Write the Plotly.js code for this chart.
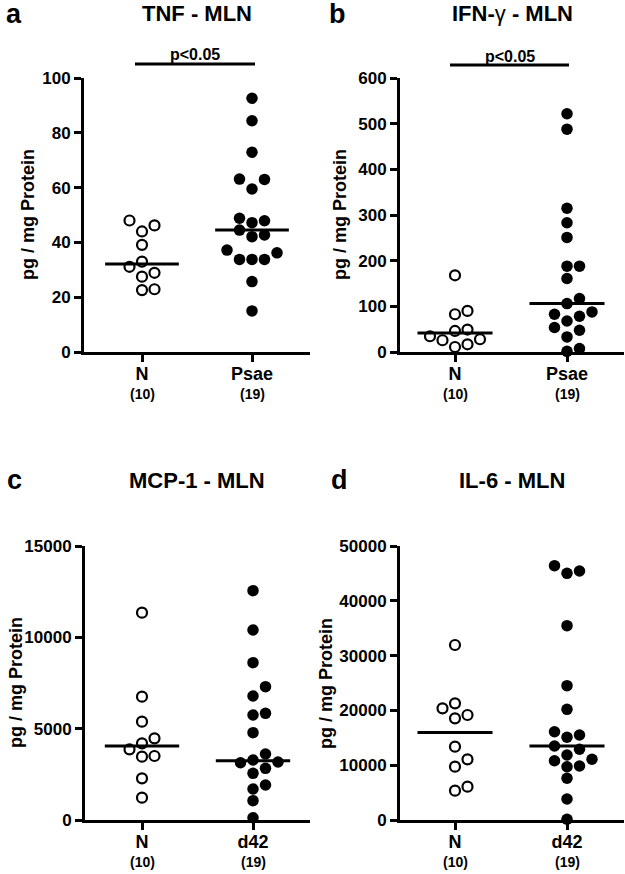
<!DOCTYPE html>
<html>
<head>
<meta charset="utf-8">
<script src="https://cdn.plot.ly/plotly-3.0.1.min.js"></script>
<style>html,body{margin:0;padding:0;background:#fff;}#chart{width:625px;height:874px;}</style>
</head>
<body>
<div id="chart"></div>
<script>
// ---------------- data ----------------
const tnfCategories = ["N", "Psae"];
const tnfN    = [48.0, 46.2, 44.0, 39.1, 33.0, 31.1, 28.9, 27.5, 22.9, 22.6];
const tnfPsae = [92.6, 84.4, 72.9, 63.1, 63.0, 59.5, 48.8, 47.9, 47.2, 44.5, 42.7, 42.1, 37.2, 36.2, 33.8, 33.8, 33.8, 25.7, 15.0];
const tnfMedians = [32.1, 44.5];

const ifnCategories = ["N", "Psae"];
const ifnN    = [168, 90, 82.7, 49.2, 46.1, 34.5, 27.9, 25.7, 16.9, 11];
const ifnPsae = [521.7, 488, 314.8, 283, 251, 188, 188, 161, 117, 106, 87.8, 82.7, 78.4, 68, 53.6, 47.6, 33, 7.4, 1.5];
const ifnMedians = [41.7, 106];

const mcpCategories = ["N", "d42"];
const mcpN   = [11350, 6752, 5383, 4471, 4197, 3869, 3504, 3467, 2281, 1223];
const mcpD42 = [12555, 10401, 8613, 7299, 6788, 5839, 5748, 4781, 3613, 3285, 3175, 3137, 2830, 2556, 1916, 1697, 1057, 126];
const mcpMedians = [4050, 3250];

const il6Categories = ["N", "d42"];
const il6N   = [31934, 21290, 20378, 19161, 18553, 13383, 11071, 9733, 6083, 5353];
const il6D42 = [46413, 45440, 45014, 35464, 24514, 20196, 16113, 15511, 15091, 13503, 12901, 11861, 11077, 10821, 9854, 9726, 7609, 3832, 128];
const il6Medians = [15950, 13500];

const groupCounts = ["(10)", "(19)"];
const panelTitles = ["TNF - MLN", "IFN-<span style=\"font-weight:normal\">γ</span> - MLN", "MCP-1 - MLN", "IL-6 - MLN"];
const panelLetters = ["a", "b", "c", "d"];
const yTitle = "pg / mg Protein";
const sigText = "p<0.05";

// ---------------- layout geometry (pixels) ----------------
const W = 625, H = 874;
const fx = p => p / W;
const fy = p => 1 - p / H;
const FONT = "Liberation Sans, Arial, Helvetica, sans-serif";

const panels = [
  {cats: tnfCategories, groups: [tnfN, tnfPsae], med: tnfMedians, ymax: 100, dtick: 20,
   left: 84, right: 310, c0: 142, c1: 252, top: 78, bottom: 352,
   titleX: 197, titleY: 14, letterX: 14, letterY: 14, yTitleX: 28, sig: {x0: 135, x1: 255, y: 64}},
  {cats: ifnCategories, groups: [ifnN, ifnPsae], med: ifnMedians, ymax: 600, dtick: 100,
   left: 400, right: 624, c0: 455, c1: 567, top: 78, bottom: 352,
   titleX: 512, titleY: 14, letterX: 337, letterY: 14, yTitleX: 340, sig: {x0: 450, x1: 569, y: 65}},
  {cats: mcpCategories, groups: [mcpN, mcpD42], med: mcpMedians, ymax: 15000, dtick: 5000,
   left: 85, right: 310, c0: 142, c1: 253, top: 546, bottom: 820,
   titleX: 197, titleY: 480, letterX: 14, letterY: 480, yTitleX: 16, sig: null},
  {cats: il6Categories, groups: [il6N, il6D42], med: il6Medians, ymax: 50000, dtick: 10000,
   left: 400, right: 624, c0: 455, c1: 567, top: 546, bottom: 820,
   titleX: 512, titleY: 480, letterX: 339, letterY: 480, yTitleX: 326, sig: null}
];

// beeswarm offsets (rows of nearby values spread into slots 0,+1,-1,+2,-2...)
function swarm(vals, pxPerUnitY, slotUnits, thresholdPx) {
  const idx = vals.map((v, i) => i).sort((a, b) => vals[a] - vals[b]);
  const off = new Array(vals.length).fill(0);
  const seq = k => k === 0 ? 0 : (k % 2 === 1 ? (k + 1) / 2 : -k / 2);
  let i = 0;
  while (i < idx.length) {
    const start = vals[idx[i]];
    let j = i;
    while (j < idx.length && (vals[idx[j]] - start) * pxPerUnitY < thresholdPx) j++;
    for (let k = i; k < j; k++) off[idx[k]] = seq(k - i) * slotUnits;
    i = j;
  }
  return off;
}

const traces = [];
const layout = {
  width: W, height: H,
  margin: {l: 0, r: 0, t: 0, b: 0},
  paper_bgcolor: "#fff", plot_bgcolor: "#fff",
  showlegend: false,
  font: {family: FONT, color: "#000"},
  annotations: [], shapes: []
};

panels.forEach((p, n) => {
  const sfx = n === 0 ? "" : String(n + 1);
  const xa = "x" + sfx, ya = "y" + sfx;
  const spacing = p.c1 - p.c0;
  const xr = [(p.left - p.c0) / spacing, (p.right - p.c0) / spacing];
  const pxPerUnitY = (p.bottom - p.top) / p.ymax;
  const slot = 12.5 / spacing;

  layout["xaxis" + sfx] = {
    domain: [fx(p.left), fx(p.right)], range: xr, anchor: ya,
    showline: true, linewidth: 3, linecolor: "#000",
    ticks: "outside", ticklen: 7, tickwidth: 3, tickcolor: "#000",
    ticklabelstandoff: -4,
    tickvals: [0, 1], ticktext: p.cats,
    tickfont: {family: FONT, size: 18, weight: "bold", color: "#000"},
    showgrid: false, zeroline: false, fixedrange: true
  };
  layout["yaxis" + sfx] = {
    domain: [fy(p.bottom), fy(p.top)], range: [0, p.ymax], anchor: xa,
    showline: true, linewidth: 3, linecolor: "#000",
    ticks: "outside", ticklen: 7, tickwidth: 3, tickcolor: "#000",
    tick0: 0, dtick: p.dtick, tickformat: "d",
    tickfont: {family: FONT, size: 17, weight: "bold", color: "#000"},
    showgrid: false, zeroline: false, fixedrange: true
  };

  p.groups.forEach((vals, g) => {
    const off = swarm(vals, pxPerUnitY, slot, 11.5);
    traces.push({
      type: "scatter", mode: "markers", xaxis: xa, yaxis: ya, cliponaxis: false,
      x: vals.map((v, i) => g + off[i]), y: vals,
      marker: g === 0
        ? {symbol: "circle", size: 10, color: "#fff", line: {color: "#000", width: 2.2}}
        : {symbol: "circle", size: 11.5, color: "#000", line: {width: 0}},
      hoverinfo: "y"
    });
    traces.push({
      type: "scatter", mode: "lines", xaxis: xa, yaxis: ya,
      x: [g - 0.335, g + 0.335], y: [p.med[g], p.med[g]],
      line: {color: "#000", width: 3}, hoverinfo: "skip"
    });
    layout.annotations.push({
      xref: xa, yref: "paper", x: g, y: fy(p.bottom + 42), text: groupCounts[g],
      showarrow: false, xanchor: "center", yanchor: "middle",
      font: {family: FONT, size: 14, weight: "bold", color: "#000"}
    });
  });

  layout.annotations.push({
    xref: "paper", yref: "paper", x: fx(p.titleX), y: fy(p.titleY), text: panelTitles[n],
    showarrow: false, xanchor: "center", yanchor: "middle",
    font: {family: FONT, size: 22, weight: "bold", color: "#000"}
  });
  layout.annotations.push({
    xref: "paper", yref: "paper", x: fx(p.letterX), y: fy(p.letterY), text: panelLetters[n],
    showarrow: false, xanchor: "center", yanchor: "middle",
    font: {family: FONT, size: 27, weight: "bold", color: "#000"}
  });
  layout.annotations.push({
    xref: "paper", yref: "paper", x: fx(p.yTitleX), y: fy((p.top + p.bottom) / 2), text: yTitle,
    showarrow: false, xanchor: "center", yanchor: "middle", textangle: -90,
    font: {family: FONT, size: 18, weight: "bold", color: "#000"}
  });
  if (p.sig) {
    layout.shapes.push({
      type: "line", xref: "paper", yref: "paper",
      x0: fx(p.sig.x0), x1: fx(p.sig.x1), y0: fy(p.sig.y), y1: fy(p.sig.y),
      line: {color: "#000", width: 3}
    });
    layout.annotations.push({
      xref: "paper", yref: "paper", x: fx((p.sig.x0 + p.sig.x1) / 2), y: fy(p.sig.y - 9), text: sigText,
      showarrow: false, xanchor: "center", yanchor: "middle",
      font: {family: FONT, size: 16, weight: "bold", color: "#000"}
    });
  }
});

Plotly.newPlot("chart", traces, layout, {staticPlot: true, displayModeBar: false});
</script>
</body>
</html>
